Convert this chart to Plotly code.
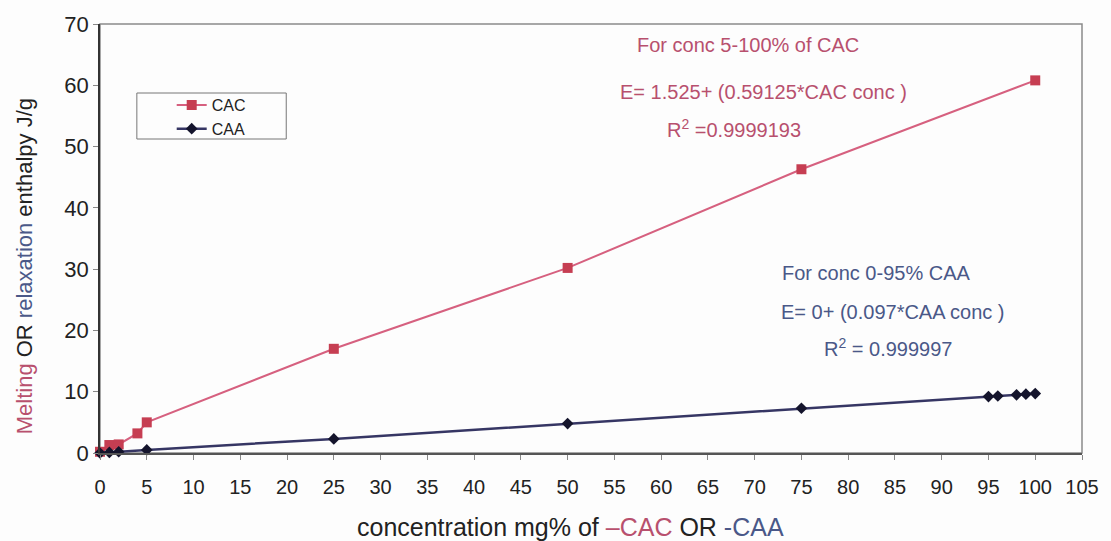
import plotly.graph_objects as go

# Data
cac_x = [0, 1, 2, 4, 5, 25, 50, 75, 100]
cac_y = [0.2, 1.3, 1.4, 3.2, 5.0, 17.0, 30.2, 46.3, 60.8]

caa_x = [0, 1, 2, 5, 25, 50, 75, 95, 96, 98, 99, 100]
caa_y = [0.0, 0.1, 0.2, 0.5, 2.3, 4.8, 7.3, 9.2, 9.3, 9.5, 9.6, 9.7]

x_ticks = list(range(0, 106, 5))
y_ticks = list(range(0, 71, 10))

PINK_LINE = "#d6607f"
PINK_MARK = "#c63e52"
PINK_TEXT = "#b8506e"
NAVY_LINE = "#363664"
NAVY_MARK = "#14142c"
BLUE_TEXT = "#4a5888"

FONT = "Liberation Sans, Arial, sans-serif"

fig = go.Figure()
fig.add_trace(go.Scatter(
    x=cac_x, y=cac_y, name="CAC", mode="lines+markers",
    line=dict(color=PINK_LINE, width=2),
    marker=dict(symbol="square", size=10, color=PINK_MARK),
    cliponaxis=False,
))
fig.add_trace(go.Scatter(
    x=caa_x, y=caa_y, name="CAA", mode="lines+markers",
    line=dict(color=NAVY_LINE, width=2.5),
    marker=dict(symbol="diamond", size=9, color=NAVY_MARK),
    cliponaxis=False,
))

W, H = 1111, 541
L, R, T, B = 100, 25, 24, 88
pw, ph = W - L - R, H - T - B


def px2x(px):
    return (px - L) / pw


def py2y(py):
    return 1 - (py - T) / ph


# annotations
ann = [
    ("For conc 5-100% of CAC", 751, 45, PINK_TEXT),
    ("E= 1.525+ (0.59125*CAC conc )", 766, 92, PINK_TEXT),
    ("R<sup>2</sup> =0.9999193", 737, 128, PINK_TEXT),
    ("For conc 0-95% CAA", 880, 273, BLUE_TEXT),
    ("E= 0+ (0.097*CAA conc )", 896, 312, BLUE_TEXT),
    ("R<sup>2</sup> = 0.999997", 891, 347, BLUE_TEXT),
]
for txt, px, py, col in ann:
    fig.add_annotation(
        text=txt, xref="paper", yref="paper",
        x=px2x(px), y=py2y(py),
        xanchor="center", yanchor="middle", showarrow=False,
        font=dict(family=FONT, size=20, color=col),
    )

x_title = (f'concentration mg% of <span style="color:{PINK_TEXT}">–CAC</span> OR '
           f'<span style="color:{BLUE_TEXT}">-CAA</span>')
y_title = (f'<span style="color:{PINK_TEXT}">Melting</span> OR '
           f'<span style="color:{BLUE_TEXT}">relaxation</span> enthalpy J/g')

fig.add_annotation(text=x_title, xref="paper", yref="paper",
                   x=px2x(572), y=py2y(527), xanchor="center", yanchor="middle",
                   showarrow=False, font=dict(family=FONT, size=25, color="#222222"))
fig.add_annotation(text=y_title, xref="paper", yref="paper", textangle=-90,
                   x=px2x(24), y=py2y(266), xanchor="center", yanchor="middle",
                   showarrow=False, font=dict(family=FONT, size=22, color="#222222"))

# legend box
fig.add_shape(type="rect", xref="paper", yref="paper",
              x0=px2x(137), x1=px2x(287), y0=py2y(139), y1=py2y(93),
              line=dict(color="#777777", width=1), fillcolor="rgba(0,0,0,0)",
              layer="below")
# plot frame (top/right lighter)
fig.add_shape(type="rect", xref="paper", yref="paper", x0=0, x1=1, y0=0, y1=1,
              line=dict(color="#8a8a8a", width=1.5), layer="below")

fig.update_layout(
    width=W, height=H,
    margin=dict(l=L, r=R, t=T, b=B),
    paper_bgcolor="#fdfdfd", plot_bgcolor="#fdfdfd",
    font=dict(family=FONT, size=19, color="#222222"),
    showlegend=True,
    legend=dict(
        x=px2x(172), y=py2y(88), xanchor="left", yanchor="top",
        bgcolor="rgba(0,0,0,0)", borderwidth=0,
        font=dict(family=FONT, size=16, color="#222222"),
        tracegroupgap=0, itemwidth=30,
    ),
    xaxis=dict(
        range=[0, 105], tickmode="array", tickvals=x_ticks,
        ticktext=[str(v) for v in x_ticks],
        showgrid=False, zeroline=False,
        showline=True, linecolor="#555555", linewidth=1.5,
        ticks="outside", ticklen=5, tickcolor="#888888",
        ticklabelstandoff=10,
        tickfont=dict(size=20, color="#222222"),
    ),
    yaxis=dict(
        range=[0, 70], tickmode="array", tickvals=y_ticks,
        ticktext=[str(v) for v in y_ticks],
        showgrid=False, zeroline=False,
        showline=True, linecolor="#333333", linewidth=1.5,
        ticks="outside", ticklen=5, tickcolor="#888888",
        tickfont=dict(size=22, color="#222222"),
    ),
)

fig.write_html("out.html")
